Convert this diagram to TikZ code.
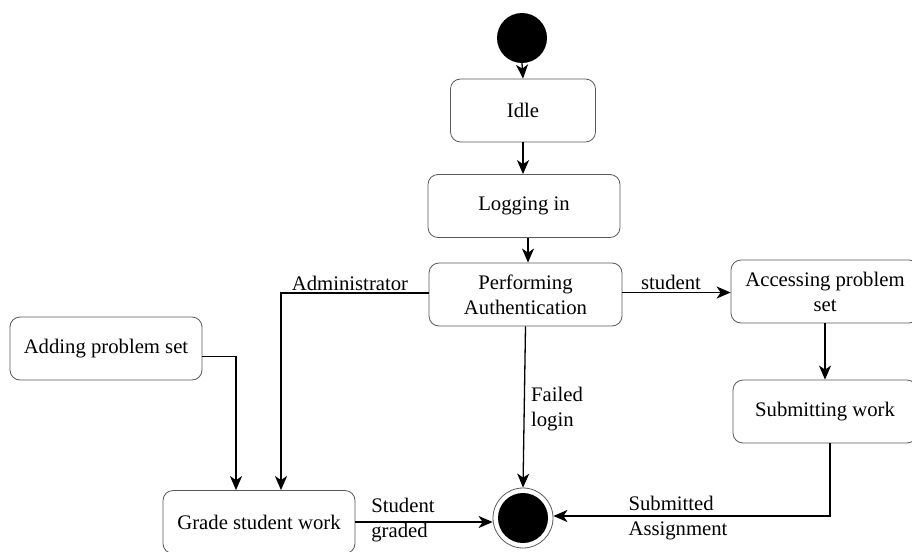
\documentclass[tikz,border=0pt]{standalone}
\usepackage{fontspec}
\setmainfont{Liberation Serif}
\usetikzlibrary{arrows.meta}
\begin{document}
\begin{tikzpicture}[x=1pt,y=-1pt,
  font=\rmfamily\fontsize{20.7}{25}\selectfont,
  state/.style={draw=black!65, line width=0.8pt, rounded corners=10pt,
    minimum height=63pt, align=center, inner sep=2pt},
  arr/.style={draw=black, line width=1.3pt,
    -{Stealth[length=14pt,width=12pt,inset=4pt]}},
  thick arr/.style={arr, line width=2pt},
  lbl/.style={align=left, inner sep=0pt}]
\useasboundingbox (0,0) rectangle (912,551);
\clip (0,0) rectangle (912,551);

% states
\node[circle, fill=black, minimum size=50pt, inner sep=0pt] (start) at (522,38) {};
\node[state, minimum width=145pt] (idle) at (523,110.5) {Idle};
\node[state, minimum width=192pt] (login) at (524,206) {Logging in};
\node[state, minimum width=193pt] (auth) at (525.5,294.5) {Performing\\Authentication};
\node[state, minimum width=188pt] (access) at (825,291.5) {Accessing problem\\set};
\node[state, minimum width=184pt] (submit) at (825,411.5) {Submitting work};
\node[state, minimum width=192pt] (adding) at (106,348.5) {Adding problem set};
\node[state, minimum width=192pt] (grade) at (259,522) {Grade student work};
\node[circle, draw=black!65, line width=0.8pt, minimum size=60pt, inner sep=0pt] (endc) at (523,518) {};
\fill (endc.center) circle (25pt);

% transitions
\draw[arr] (start.south) -- (idle.north);
\draw[arr] (idle.south) -- (idle.south |- login.north);
\draw[arr] ([xshift=4pt]login.south) -- ([xshift=4pt]login.south |- auth.north);
\draw[thick arr] ([yshift=2pt]auth.west) -| ([xshift=22pt]grade.north);
\draw[arr, line width=1.6pt] ([yshift=2pt]auth.east) -- ([yshift=2pt]auth.east -| access.west);
\draw[arr] (access.south) -- (access.south |- submit.north);
\draw[thick arr] ([xshift=5pt]submit.south) |- ([yshift=2pt]endc.east);
\draw[arr] ([yshift=-8pt]adding.east) -| ([xshift=-23pt]grade.north);
\draw[arr] (grade.east) -- (grade.east -| endc.west);
\draw[arr] (auth.south) -- (endc.north);

% transition labels
\node[lbl] (ladm) at (350,283) {Administrator};
\node[lbl] (lstu) at (671,282) {student};
\node[lbl] (lfail) at (557,409) {Failed\\login};
\node[lbl] (lgrad) at (403,520) {Student\\graded};
\node[lbl] (lsub) at (678,518) {Submitted\\Assignment};
\end{tikzpicture}
\end{document}
